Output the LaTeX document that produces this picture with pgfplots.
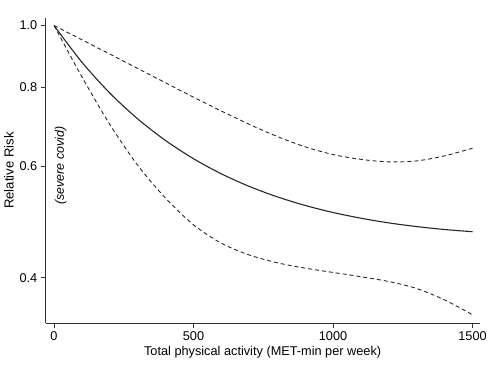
\documentclass[border=0pt]{standalone}
\usepackage{pgfplots}
\pgfplotsset{compat=1.18}
\usepackage{fontspec}
\setmainfont{Liberation Sans}
\begin{document}
\begin{tikzpicture}[font=\fontsize{12.8pt}{14pt}\selectfont]
\begin{axis}[
  scale only axis,
  width=436pt, height=307pt,
  xmin=-29.6, xmax=1525,
  ymode=log, ymin=0.339, ymax=1.028,
  axis x line*=bottom, axis y line*=left,
  axis line style={black!80, line width=0.8pt, -},
  tick align=outside,
  major tick length=5pt,
  tick style={black!80, line width=0.8pt},
  xtick={0,500,1000,1500},
  ytick={0.4,0.6,0.8,1.0},
  yticklabels={0.4,0.6,0.8,1.0},
  minor ytick={},
  /pgf/number format/assume math mode=true,
  scaled x ticks=false,
  xticklabel style={/pgf/number format/1000 sep={}, font=\fontsize{12.8pt}{14pt}\selectfont},
  yticklabel style={font=\fontsize{12.8pt}{14pt}\selectfont},
  xlabel={Total physical activity (MET-min per week)},
  ylabel={Relative Risk},
  xlabel style={font=\fontsize{12.8pt}{14pt}\selectfont, yshift=1pt},
  ylabel style={font=\fontsize{13.2pt}{14pt}\selectfont, yshift=-1pt},
  clip=false,
]
\addplot[smooth, black!85, line width=1.1pt] coordinates {
(0,1.0) (100,0.8752) (200,0.7825) (300,0.7123) (400,0.6584) (500,0.6164) (600,0.5834) (700,0.5574) (800,0.5367) (900,0.5202) (1000,0.507) (1100,0.4966) (1200,0.4882) (1300,0.4817) (1400,0.4766) (1500,0.4728)
};
\addplot[smooth, black!85, line width=0.9pt, dash pattern=on 4pt off 3pt] coordinates {
(0,1.0) (100,0.9495) (200,0.9014) (300,0.8555) (400,0.8119) (500,0.7709) (600,0.7330) (700,0.6984) (800,0.6682) (900,0.6436) (1000,0.6258) (1100,0.6150) (1200,0.6094) (1300,0.6115) (1400,0.6229) (1500,0.6404)
};
\addplot[smooth, black!85, line width=0.9pt, dash pattern=on 4pt off 3pt] coordinates {
(0,1.0) (100,0.8299) (200,0.6982) (300,0.6018) (400,0.5340) (500,0.4848) (600,0.4534) (700,0.4345) (800,0.4224) (900,0.4142) (1000,0.4078) (1100,0.4015) (1200,0.3946) (1300,0.3847) (1400,0.3691) (1500,0.3497)
};
\node[rotate=90, font=\itshape\fontsize{12.5pt}{14pt}\selectfont] at (axis cs:24,0.601) {(severe covid)};
\end{axis}
\path[use as bounding box] (-46pt,-53pt) rectangle (444pt,325pt);
\end{tikzpicture}
\end{document}
